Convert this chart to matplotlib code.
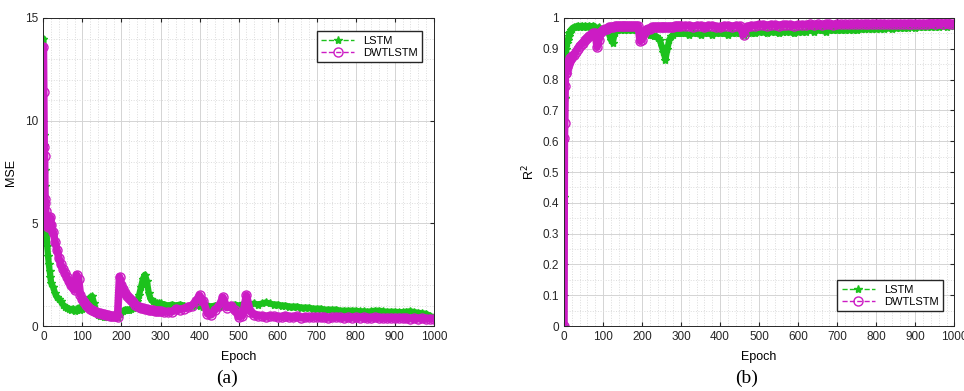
import matplotlib
matplotlib.use("Agg")
import matplotlib.pyplot as plt
import numpy as np
from matplotlib.ticker import MultipleLocator, FormatStrFormatter

plt.rcParams.update({"font.family": "Liberation Sans", "font.size": 8})
GREEN = "#1cc21c"
MAGENTA = "#cc1cc4"

epochs = np.r_[[0, 1, 2, 3, 4, 5, 6, 8, 10, 12, 14, 16, 18],
               np.arange(20, 301, 5), np.arange(310, 1001, 10)]

mse_lstm = [14.0, 9.3, 8.8, 7.6, 6.8, 6.0, 5.3, 4.6, 3.9, 3.4, 3.0, 2.7, 2.4,
            2.1, 1.9, 1.6, 1.4, 1.3, 1.2, 1.05, 0.95, 0.9, 0.85, 0.8, 0.85, 0.75, 0.8, 0.9, 0.8, 0.85,
            0.9, 1.1, 1.2, 1.4, 1.45, 1.1, 0.7, 0.55, 0.5, 0.48, 0.46, 0.45, 0.45, 0.44, 0.45, 0.44, 0.45, 0.46,
            0.6, 0.7, 0.75, 0.8, 0.8, 0.8, 0.85, 0.9, 1.0, 1.2, 1.5, 1.9, 2.3, 2.5, 2.2, 1.6, 1.3, 1.2, 1.15,
            1.1, 1.1, 1.1,
            1.05, 1.0, 1.05, 1.0, 1.05, 1.0, 0.95, 1.0, 1.05, 1.0,
            0.95, 1.0, 0.95, 1.0, 0.95, 1.0, 0.95, 1.0, 1.05, 1.0,
            1.05, 1.1, 1.05, 1.1, 1.05, 1.1, 1.15, 1.1, 1.05, 1.05,
            1.0, 1.0, 0.95, 0.95, 0.95, 0.9, 0.9, 0.9, 0.85, 0.85,
            0.85, 0.8, 0.8, 0.8, 0.8, 0.75, 0.75, 0.75, 0.75, 0.75,
            0.72, 0.72, 0.7, 0.72, 0.75, 0.75, 0.72, 0.7, 0.7, 0.7,
            0.68, 0.68, 0.7, 0.72, 0.68, 0.65, 0.62, 0.6, 0.5, 0.42]

mse_dwt = [13.6, 11.4, 8.7, 8.3, 6.2, 6.0, 5.6, 5.3, 5.0, 4.8, 5.2, 4.9, 5.3,
           4.9, 4.6, 4.1, 3.7, 3.3, 3.0, 2.8, 2.6, 2.4, 2.2, 2.0, 1.9, 1.75, 2.5, 2.3, 1.5, 1.3,
           1.15, 1.05, 0.95, 0.85, 0.8, 0.75, 0.7, 0.65, 0.62, 0.6, 0.58, 0.55, 0.52, 0.5, 0.5, 0.48, 0.47, 0.45,
           2.4, 2.0, 1.8, 1.6, 1.45, 1.35, 1.25, 1.15, 1.05, 1.0, 0.95, 0.9, 0.88, 0.85, 0.82, 0.8, 0.78, 0.76,
           0.75, 0.74, 0.72, 0.72,
           0.7, 0.68, 0.7, 0.85, 0.8, 0.85, 0.95, 1.0, 1.2, 1.5,
           1.2, 0.6, 0.55, 0.8, 1.0, 1.4, 0.9, 1.0, 0.8, 0.45,
           0.5, 1.5, 0.7, 0.55, 0.5, 0.5, 0.45, 0.5, 0.48, 0.45,
           0.45, 0.5, 0.45, 0.42, 0.48, 0.4, 0.45, 0.42, 0.45, 0.45,
           0.42, 0.45, 0.4, 0.42, 0.45, 0.42, 0.4, 0.42, 0.4, 0.42,
           0.4, 0.42, 0.38, 0.4, 0.42, 0.4, 0.38, 0.4, 0.38, 0.4,
           0.38, 0.4, 0.38, 0.36, 0.38, 0.36, 0.38, 0.35, 0.36, 0.35]

r2_lstm = [0.0, 0.42, 0.74, 0.74, 0.86, 0.88, 0.9, 0.92, 0.93, 0.94, 0.95, 0.955, 0.96,
           0.965, 0.97, 0.97, 0.975, 0.97, 0.975, 0.97, 0.975, 0.97, 0.975, 0.97, 0.975, 0.97, 0.965, 0.97, 0.96, 0.96,
           0.96, 0.96, 0.95, 0.93, 0.92, 0.95, 0.96, 0.965, 0.96, 0.965, 0.96, 0.965, 0.96, 0.965, 0.96, 0.965, 0.96, 0.96,
           0.95, 0.955, 0.95, 0.95, 0.95, 0.945, 0.945, 0.94, 0.94, 0.935, 0.93, 0.91, 0.89, 0.865, 0.9, 0.93, 0.94, 0.945,
           0.95, 0.95, 0.95, 0.95,
           0.95, 0.945, 0.95, 0.95, 0.945, 0.95, 0.95, 0.945, 0.95, 0.95,
           0.95, 0.945, 0.95, 0.95, 0.95, 0.945, 0.95, 0.95, 0.95, 0.955,
           0.955, 0.95, 0.955, 0.955, 0.95, 0.955, 0.955, 0.955, 0.95, 0.955,
           0.955, 0.955, 0.96, 0.955, 0.96, 0.96, 0.955, 0.96, 0.96, 0.96,
           0.96, 0.96, 0.962, 0.962, 0.96, 0.963, 0.963, 0.965, 0.963, 0.965,
           0.965, 0.965, 0.967, 0.965, 0.967, 0.968, 0.967, 0.968, 0.97, 0.968,
           0.97, 0.97, 0.97, 0.972, 0.97, 0.972, 0.973, 0.972, 0.975, 0.975]

r2_dwt = [0.0, 0.61, 0.66, 0.78, 0.82, 0.82, 0.83, 0.84, 0.85, 0.86, 0.86, 0.87, 0.87,
          0.875, 0.88, 0.89, 0.9, 0.91, 0.915, 0.92, 0.93, 0.935, 0.94, 0.945, 0.95, 0.95, 0.905, 0.93, 0.955, 0.96,
          0.965, 0.965, 0.97, 0.97, 0.97, 0.975, 0.975, 0.975, 0.975, 0.975, 0.975, 0.975, 0.975, 0.975, 0.975, 0.975, 0.975, 0.975,
          0.925, 0.93, 0.95, 0.96, 0.965, 0.965, 0.97, 0.97, 0.97, 0.97, 0.97, 0.97, 0.972, 0.972, 0.97, 0.972, 0.972, 0.972,
          0.975, 0.975, 0.975, 0.975,
          0.975, 0.975, 0.972, 0.975, 0.975, 0.97, 0.975, 0.975, 0.972, 0.97,
          0.975, 0.975, 0.972, 0.975, 0.975, 0.945, 0.972, 0.975, 0.975, 0.978,
          0.978, 0.975, 0.978, 0.978, 0.975, 0.978, 0.978, 0.978, 0.975, 0.978,
          0.978, 0.978, 0.98, 0.978, 0.98, 0.978, 0.98, 0.98, 0.978, 0.98,
          0.98, 0.98, 0.98, 0.98, 0.982, 0.98, 0.982, 0.98, 0.982, 0.982,
          0.982, 0.982, 0.98, 0.982, 0.982, 0.982, 0.982, 0.982, 0.982, 0.982,
          0.982, 0.982, 0.982, 0.983, 0.982, 0.983, 0.982, 0.983, 0.982, 0.982]


def style_axes(ax):
    ax.grid(True, which="major", color="#d4d4d4", linewidth=0.7)
    ax.grid(True, which="minor", color="#dcdcdc", linestyle=":", linewidth=0.7)
    ax.set_axisbelow(True)
    ax.tick_params(which="both", direction="in", top=True, right=True,
                   colors="#262626", labelsize=8.5, length=3)
    ax.tick_params(which="minor", length=0)
    for s in ax.spines.values():
        s.set_color("#262626")
        s.set_linewidth(0.7)
    ax.set_xlim(0, 1000)
    ax.xaxis.set_major_locator(MultipleLocator(100))
    ax.xaxis.set_minor_locator(MultipleLocator(20))
    ax.set_xlabel("Epoch", fontsize=9, labelpad=6)


def draw(ax, y1, y2):
    # solid underlay makes the dense marker band of the original
    ax.plot(epochs, y1, "-", color=GREEN, linewidth=4.5, solid_capstyle="round")
    ax.plot(epochs, y1, "--", color=GREEN, marker="*", markersize=6,
            linewidth=1, label="LSTM")
    ax.plot(epochs, y2, "-", color=MAGENTA, linewidth=5.5, solid_capstyle="round")
    ax.plot(epochs, y2, "--", color=MAGENTA, marker="o", markersize=6.5,
            markerfacecolor="none", markeredgewidth=1, linewidth=1, label="DWTLSTM")


fig = plt.figure(figsize=(9.64, 3.91), dpi=100)
ax1 = fig.add_axes([0.045, 0.166, 0.405, 0.788])
ax2 = fig.add_axes([0.585, 0.166, 0.405, 0.788])

draw(ax1, mse_lstm, mse_dwt)
style_axes(ax1)
ax1.set_ylim(0, 15)
ax1.yaxis.set_major_locator(MultipleLocator(5))
ax1.yaxis.set_minor_locator(MultipleLocator(1))
ax1.set_ylabel("MSE", fontsize=9, labelpad=6)
h, l = ax1.get_legend_handles_labels()
ax1.legend(h, l, loc="upper right", fontsize=8, frameon=True, fancybox=False,
           edgecolor="#262626", framealpha=1, handlelength=3,
           borderpad=0.4, labelspacing=0.2, bbox_to_anchor=(0.985, 0.975))

draw(ax2, r2_lstm, r2_dwt)
style_axes(ax2)
ax2.set_ylim(0, 1)
ax2.set_yticks(np.linspace(0, 1, 11))
ax2.yaxis.set_minor_locator(MultipleLocator(0.05))
ax2.yaxis.set_major_formatter(FormatStrFormatter("%g"))
ax2.set_ylabel("R$^2$", fontsize=9, labelpad=4)
h, l = ax2.get_legend_handles_labels()
ax2.legend(h, l, loc="lower right", fontsize=8, frameon=True, fancybox=False,
           edgecolor="#262626", framealpha=1, handlelength=3,
           borderpad=0.4, labelspacing=0.2, bbox_to_anchor=(0.985, 0.03))

fig.text(0.235, 0.02, "(a)", ha="center", fontsize=14, family="Liberation Serif")
fig.text(0.774, 0.02, "(b)", ha="center", fontsize=14, family="Liberation Serif")

fig.savefig("out.png", dpi=100)
